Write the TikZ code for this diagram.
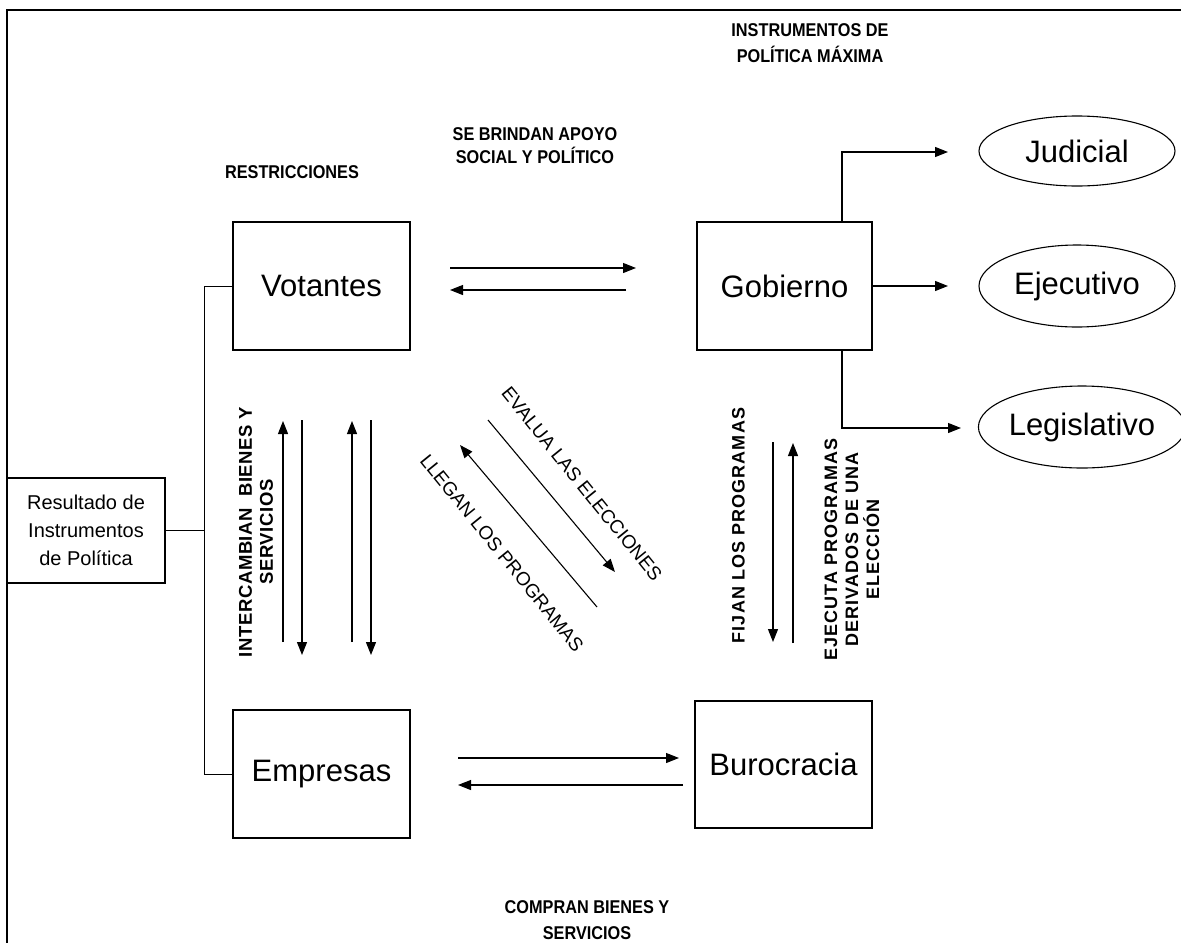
\documentclass[tikz,border=0pt]{standalone}
\usepackage{fontspec}
\setmainfont{Liberation Sans}
\newfontfamily\condf[FakeStretch=0.88]{Liberation Sans}
\newfontfamily\spacedf[LetterSpace=6]{Liberation Sans}
\newfontfamily\lspacedf[LetterSpace=3]{Liberation Sans}
\usetikzlibrary{arrows.meta,shapes.geometric}
\begin{document}
\begin{tikzpicture}[x=1pt,y=-1pt,
  box/.style={draw, line width=1.2pt, inner sep=0pt, font=\fontsize{31}{36}\selectfont},
  oval/.style={draw, ellipse, line width=1.1pt, inner sep=0pt, font=\fontsize{31}{36}\selectfont},
  link/.style={line width=1pt},
  arr/.style={line width=1.1pt, -{Triangle[length=13pt,width=10pt]}},
  caplab/.style={font=\condf\bfseries\fontsize{18.5}{26}\selectfont, align=center},
  vlab/.style={font=\lspacedf\bfseries\fontsize{18.5}{21}\selectfont, align=center, rotate=90},
  vslab/.style={font=\spacedf\bfseries\fontsize{18}{21}\selectfont, align=center, rotate=90},
  dlab/.style={font=\fontsize{19}{22}\selectfont, rotate=-51}
]
\useasboundingbox (0,0) rectangle (1181,943);
% frame
\coordinate (ftl) at (7,10);
\coordinate (ftr) at (1181,10);
\coordinate (fbl) at (7,943);
\draw[line width=2pt] (ftr) -- (ftl) -- (fbl);

% boxes
\node[box, minimum width=177pt, minimum height=128pt] (vot) at (321.5,286) {Votantes};
\node[box, minimum width=175pt, minimum height=128pt] (gob) at (784.5,286) {Gobierno};
\node[box, minimum width=177pt, minimum height=128pt] (emp) at (321.5,774) {Empresas};
\node[box, minimum width=177pt, minimum height=127pt] (bur) at (783.5,764.5) {Burocracia};
\node[draw, line width=1.2pt, inner sep=0pt, minimum width=158pt, minimum height=105pt,
      align=center, font=\fontsize{20}{28}\selectfont] (res) at (86,530.5)
      {Resultado de\\Instrumentos\\de Política};

% ellipses
\node[oval, minimum width=196pt, minimum height=70pt] (jud) at (1077,151) {Judicial};
\node[oval, minimum width=196pt, minimum height=82pt] (eje) at (1077,286) {Ejecutivo};
\node[oval, minimum width=188pt, minimum height=82pt] (leg) at (1082,427) {Legislativo};

% left bus
\coordinate (bt) at (204,286);
\coordinate (bm) at (204,530.5);
\coordinate (bb) at (204,774);
\draw[link] (vot.west) -- (bt) -- (bb) -- (emp.west);
\draw[link] (res.east) -- (bm);

% gobierno to branches
\coordinate (gj) at (842,152);
\coordinate (gl) at (842,428);
\coordinate (jend) at (948,152);
\coordinate (eend) at (948,286);
\coordinate (lend) at (961,428);
\draw[arr] (gob.north -| gj) -- (gj) -- (jend);
\draw[arr] (gob.east) -- (eend);
\draw[arr] (gob.south -| gl) -- (gl) -- (lend);

% votantes <-> gobierno
\coordinate (vg1a) at (450,268); \coordinate (vg1b) at (636,268);
\coordinate (vg2a) at (626,290); \coordinate (vg2b) at (450,290);
\draw[arr] (vg1a) -- (vg1b);
\draw[arr] (vg2a) -- (vg2b);

% empresas <-> burocracia
\coordinate (eb1a) at (458,758); \coordinate (eb1b) at (679,758);
\coordinate (eb2a) at (683,785); \coordinate (eb2b) at (458,785);
\draw[arr] (eb1a) -- (eb1b);
\draw[arr] (eb2a) -- (eb2b);

% left verticals
\coordinate (l1a) at (283,642); \coordinate (l1b) at (283,421);
\coordinate (l2a) at (302,420); \coordinate (l2b) at (302,655);
\coordinate (l3a) at (352,642); \coordinate (l3b) at (352,421);
\coordinate (l4a) at (371,420); \coordinate (l4b) at (371,655);
\draw[arr] (l1a) -- (l1b);
\draw[arr] (l2a) -- (l2b);
\draw[arr] (l3a) -- (l3b);
\draw[arr] (l4a) -- (l4b);

% right verticals
\coordinate (r1a) at (773,442); \coordinate (r1b) at (773,642);
\coordinate (r2a) at (793,643); \coordinate (r2b) at (793,443);
\draw[arr] (r1a) -- (r1b);
\draw[arr] (r2a) -- (r2b);

% diagonals
\coordinate (d1a) at (488,420); \coordinate (d1b) at (615,572);
\coordinate (d2a) at (597,607); \coordinate (d2b) at (460,445);
\draw[arr] (d1a) -- (d1b);
\draw[arr] (d2a) -- (d2b);

% labels
\node[caplab] (tinst) at (810,43) {INSTRUMENTOS DE\\POLÍTICA MÁXIMA};
\node[caplab, font=\condf\bfseries\fontsize{18.5}{23}\selectfont] (tapoyo) at (535,146) {SE BRINDAN APOYO\\SOCIAL Y POLÍTICO};
\node[caplab] (trest) at (292,172) {RESTRICCIONES};
\node[caplab] (tcomp) at (587,920) {COMPRAN BIENES Y\\SERVICIOS};
\node[vlab] (tinter) at (256,532) {INTERCAMBIAN\ \ BIENES Y\\SERVICIOS};
\node[vslab] (tfijan) at (738.5,525.5) {FIJAN LOS PROGRAMAS};
\node[vslab] (tejec) at (852,549.5) {EJECUTA PROGRAMAS\\DERIVADOS DE UNA\\ELECCIÓN};
\node[dlab] (teval) at (582,484) {EVALUA LAS ELECCIONES};
\node[dlab] (tlleg) at (502,553) {LLEGAN LOS PROGRAMAS};
\end{tikzpicture}
\end{document}
